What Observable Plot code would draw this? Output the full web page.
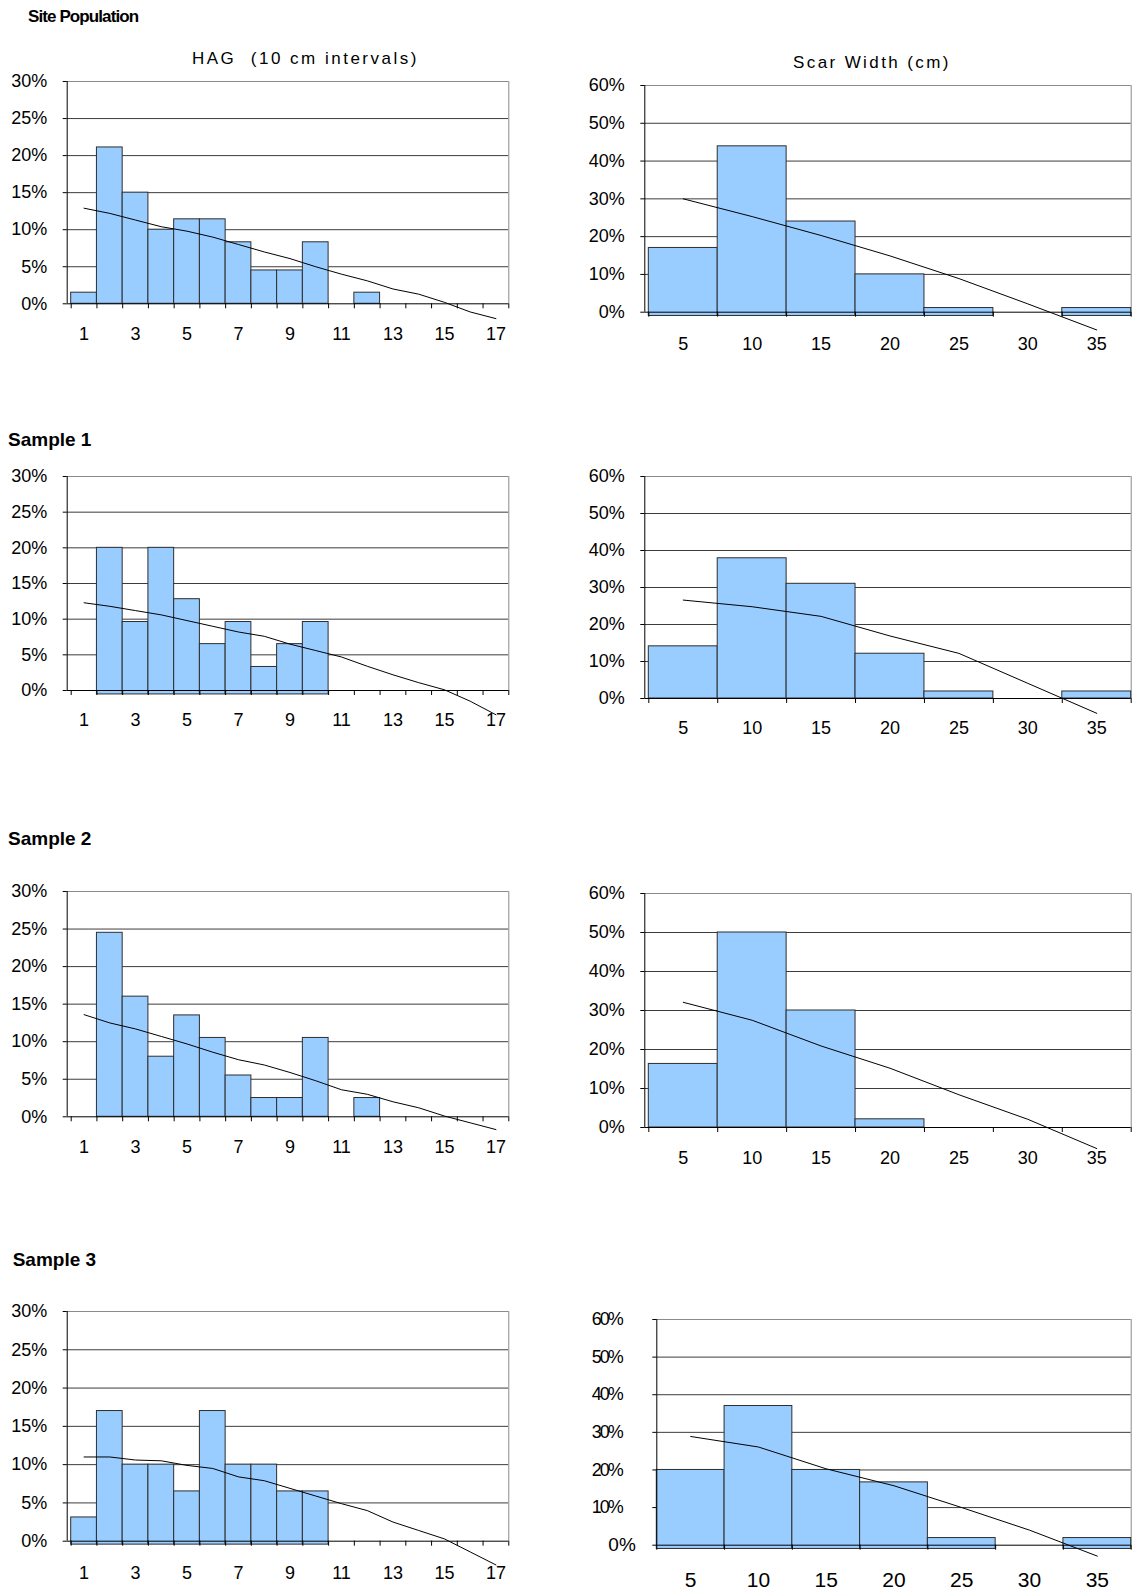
<!DOCTYPE html>
<html>
<head>
<meta charset="utf-8">
<script src="https://cdn.jsdelivr.net/npm/d3@7"></script>
<script src="https://cdn.jsdelivr.net/npm/@observablehq/plot@0.6"></script>
<style>
  body { margin: 0; background: #fff; }
  #page { position: relative; width: 1132px; height: 1591px; overflow: hidden; font-family: "Liberation Sans", Arial, sans-serif; }
  #page svg.chart { position: absolute; }
  #overlay { position: absolute; left: 0; top: 0; pointer-events: none; }
</style>
</head>
<body>
<div id="page"></div>
<script>
// ---------- categories & ticks ----------
const hagClasses = [1, 2, 3, 4, 5, 6, 7, 8, 9, 10, 11, 12, 13, 14, 15, 16, 17];
const hagTickLabels = [1, 3, 5, 7, 9, 11, 13, 15, 17];
const hagYTicks = [0, 5, 10, 15, 20, 25, 30];
const scarWidths = [5, 10, 15, 20, 25, 30, 35];
const scarYTicks = [0, 10, 20, 30, 40, 50, 60];

// ---------- HAG (10 cm intervals), % of trees ----------
const hagSite    = [1.5, 21.1, 15, 10, 11.4, 11.4, 8.3, 4.5, 4.5, 8.3, 0, 1.5, 0, 0, 0, 0, 0];
const hagSample1 = [0, 20, 9.6, 20, 12.8, 6.5, 9.6, 3.3, 6.5, 9.6, 0, 0, 0, 0, 0, 0, 0];
const hagSample2 = [0, 24.5, 16.0, 8.0, 13.5, 10.5, 5.5, 2.5, 2.5, 10.5, 0, 2.5, 0, 0, 0, 0, 0];
const hagSample3 = [3.1, 17, 10, 10, 6.5, 17, 10, 10, 6.5, 6.5, 0, 0, 0, 0, 0, 0, 0];

// trend lines at each class
const hagTrendSite    = [12.9, 12.2, 11.3, 10.4, 9.8, 9.0, 8.0, 7.0, 6.1, 5.0, 4.0, 3.1, 2.0, 1.3, 0.2, -1.1, -2.0];
const hagTrendSample1 = [12.3, 11.8, 11.2, 10.6, 9.8, 9.0, 8.2, 7.6, 6.5, 5.6, 4.7, 3.4, 2.2, 1.1, 0.1, -1.5, -3.4];
const hagTrendSample2 = [13.6, 12.5, 11.7, 10.7, 9.7, 8.6, 7.6, 6.9, 5.9, 4.8, 3.6, 3.0, 2.0, 1.2, 0.1, -0.8, -1.7];
const hagTrendSample3 = [11.0, 11.0, 10.6, 10.5, 9.9, 9.5, 8.4, 7.9, 6.9, 5.9, 4.9, 4.0, 2.5, 1.4, 0.3, -1.4, -3.1];

// ---------- Scar width (cm), % of trees ----------
const scarSite    = [17.0, 43.9, 24.0, 10.0, 1.1, 0, 1.1];
const scarSample1 = [14.1, 37.9, 31.0, 12.1, 1.9, 0, 1.9];
const scarSample2 = [16.3, 50, 30, 2.1, 0, 0, 0];
const scarSample3 = [20, 37, 20, 16.7, 1.9, 0, 1.9];

const scarTrendSite    = [30.0, 25.3, 20.3, 14.9, 8.9, 2.2, -4.7];
const scarTrendSample1 = [26.6, 24.8, 22.2, 16.9, 12.2, 4.1, -4.0];
const scarTrendSample2 = [32.1, 27.5, 20.9, 15.2, 8.4, 2.1, -5.4];
const scarTrendSample3 = [28.9, 26.1, 20.3, 15.8, 10.0, 4.0, -2.9];

// ---------- titles ----------
const pageTitle = "Site Population";
const hagTitle = "HAG  (10 cm intervals)";
const scarTitle = "Scar Width (cm)";
const sampleTitles = ["Sample 1", "Sample 2", "Sample 3"];

// ---------- layout (styling / positions only) ----------
const panels = [
  {kind: "hag",  values: hagSite,     trend: hagTrendSite,     left: 0,   width: 520, ml: 66.7, mr: 11.7, top: 81,    bottom: 303.3,  x0: 0.345, base: 0,     pad: 23,   xFont: 18},
  {kind: "hag",  values: hagSample1,  trend: hagTrendSample1,  left: 0,   width: 520, ml: 66.7, mr: 11.7, top: 476,   bottom: 690,    x0: 0.345, base: -0.55, pad: 23,   xFont: 18},
  {kind: "hag",  values: hagSample2,  trend: hagTrendSample2,  left: 0,   width: 520, ml: 66.7, mr: 11.7, top: 890.7, bottom: 1116,   x0: 0.345, base: 0,     pad: 23,   xFont: 18},
  {kind: "hag",  values: hagSample3,  trend: hagTrendSample3,  left: 0,   width: 520, ml: 66.7, mr: 11.7, top: 1311,  bottom: 1540.7, x0: 0.345, base: -0.45, pad: 25.5, xFont: 18},
  {kind: "scar", values: scarSite,    trend: scarTrendSite,    left: 560, width: 572, ml: 84.3, mr: 1.3,  top: 85,    bottom: 311.7,  x0: 2.21,  base: -1.0,  pad: 25,   xFont: 18},
  {kind: "scar", values: scarSample1, trend: scarTrendSample1, left: 560, width: 572, ml: 84.3, mr: 1.3,  top: 475.7, bottom: 697.7,  x0: 2.21,  base: 0,     pad: 23,   xFont: 18},
  {kind: "scar", values: scarSample2, trend: scarTrendSample2, left: 560, width: 572, ml: 84.3, mr: 1.3,  top: 893.3, bottom: 1127.3, x0: 2.21,  base: 0,     pad: 24,   xFont: 18},
  {kind: "scar", values: scarSample3, trend: scarTrendSample3, left: 560, width: 572, ml: 96.3, mr: 1.3,  top: 1319,  bottom: 1544.7, x0: 2.5,   base: -1.0,  pad: 27,   xFont: 21, oddY: true}
];

const page = document.getElementById("page");
const FONT = "'Liberation Sans', Arial, Helvetica, sans-serif";

function draw(p) {
  const isHag = p.kind === "hag";
  const cats = isHag ? hagClasses : scarWidths;
  const half = isHag ? 0.5 : 2.5;
  const xMax = isHag ? 17.5 : 37.5;
  const yMax = isHag ? 30 : 60;
  const yTicks = isHag ? hagYTicks : scarYTicks;
  const labels = isHag ? hagTickLabels : scarWidths;
  const bounds = cats.map(c => c - half).concat([xMax]);
  const bars = cats.map((c, i) => ({c, v: p.values[i]})).filter(d => d.v > 0);
  const tr = cats.map((c, i) => ({c, t: p.trend[i]}));
  const mt = 12, mb = 52;

  const yAxes = p.oddY
    ? [
        Plot.axisY([0], {tickSize: 4, tickPadding: 17, tickFormat: d => d + "%", label: null, fontSize: 19}),
        Plot.axisY(yTicks.filter(t => t > 0), {tickSize: 4, tickPadding: 31, tickFormat: d => d + "%", label: null})
      ]
    : [Plot.axisY(yTicks, {tickSize: 4, tickPadding: 16, tickFormat: d => d + "%", label: null})];

  const svg = Plot.plot({
    width: p.width,
    height: (p.bottom - p.top) + mt + mb,
    marginLeft: p.ml, marginRight: p.mr, marginTop: mt, marginBottom: mb,
    style: {fontFamily: FONT, fontSize: "18px", color: "#000", background: "transparent", overflow: "visible"},
    x: {domain: [p.x0, xMax], label: null},
    y: {domain: [0, yMax], label: null},
    marks: [
      Plot.gridY(yTicks.filter(t => t > 0 && t < yMax), {stroke: "#3c3c3c", strokeOpacity: 1}),
      Plot.ruleY([yMax], {stroke: "#8a8a8a"}),
      Plot.ruleX([xMax], {stroke: "#8a8a8a"}),
      Plot.rectY(bars, {x1: d => d.c - half, x2: d => d.c + half, y1: p.base, y2: "v", fill: "#99CCFF", stroke: "#2e2e2e", strokeWidth: 1}),
      Plot.ruleY([0], {stroke: "#000"}),
      Plot.ruleX([p.x0], {stroke: "#000"}),
      ...yAxes,
      Plot.axisX(bounds, {tickSize: 5, tickFormat: () => "", label: null}),
      Plot.axisX(labels, {tickSize: 0, tickPadding: p.pad, tickFormat: d => String(d), label: null, fontSize: p.xFont}),
      Plot.line(tr, {x: "c", y: "t", stroke: "#000", strokeWidth: 1})
    ]
  });
  svg.classList.add("chart");
  svg.style.left = p.left + "px";
  svg.style.top = (p.top - mt) + "px";
  if (p.oddY) {
    svg.querySelectorAll('g[aria-label="y-axis tick label"] text').forEach(t => {
      if (t.textContent !== "0%") t.style.letterSpacing = "-2px";
    });
  }
  page.appendChild(svg);
}
panels.forEach(draw);

// ---------- titles overlay ----------
const NS = "http://www.w3.org/2000/svg";
const ov = document.createElementNS(NS, "svg");
ov.setAttribute("id", "overlay");
ov.setAttribute("width", 1132);
ov.setAttribute("height", 1591);
function addText(str, x, y, size, weight, spacing) {
  const t = document.createElementNS(NS, "text");
  t.setAttribute("x", x);
  t.setAttribute("y", y);
  t.setAttribute("font-family", FONT);
  t.setAttribute("font-size", size);
  t.setAttribute("font-weight", weight);
  t.setAttribute("fill", "#000");
  t.style.whiteSpace = "pre";
  t.style.letterSpacing = spacing + "px";
  t.textContent = str;
  ov.appendChild(t);
}
addText(pageTitle, 28, 22, 17, "bold", -0.9);
addText(hagTitle, 192, 64, 17, "normal", 2.5);
addText(scarTitle, 793, 68, 17, "normal", 2.4);
addText(sampleTitles[0], 8, 446, 19, "bold", 0);
addText(sampleTitles[1], 8, 845, 19, "bold", 0);
addText(sampleTitles[2], 12.7, 1266, 19, "bold", 0);
page.appendChild(ov);
</script>
</body>
</html>
